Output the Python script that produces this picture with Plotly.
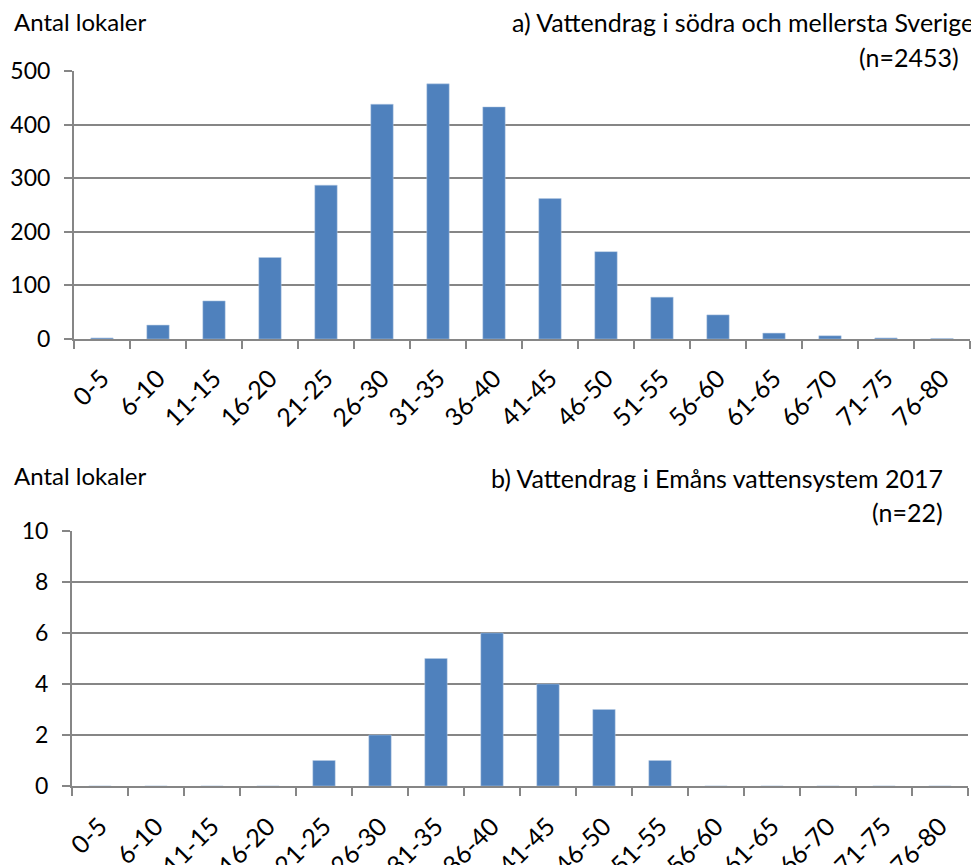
import plotly.graph_objects as go

categories = ["0-5", "6-10", "11-15", "16-20", "21-25", "26-30", "31-35", "36-40",
              "41-45", "46-50", "51-55", "56-60", "61-65", "66-70", "71-75", "76-80"]
values_a = [2, 26, 71, 152, 287, 438, 476, 433, 262, 163, 78, 45, 11, 6, 2, 1]
values_b = [0, 0, 0, 0, 1, 2, 5, 6, 4, 3, 1, 0, 0, 0, 0, 0]
yticks_a = [0, 100, 200, 300, 400, 500]
yticks_b = [0, 2, 4, 6, 8, 10]

BAR = "#4F81BD"
GRID = "#868686"
FONT = "Lato, 'Open Sans', sans-serif"
W, H = 979, 865
OFF = 8  # page body margin offset

def py(y):
    return 1 - (y - OFF) / H

def pxx(x):
    return (x - OFF) / W

fig = go.Figure()
fig.add_trace(go.Bar(x=categories, y=values_a, marker=dict(color=BAR, line=dict(color="#B9CDE5", width=0.5)),
                     xaxis="x", yaxis="y", showlegend=False))
fig.add_trace(go.Bar(x=categories, y=values_b, marker=dict(color=BAR, line=dict(color="#B9CDE5", width=0.5)),
                     xaxis="x2", yaxis="y2", showlegend=False))

xcommon = dict(type="category", tickangle=-45, ticks="outside", ticklen=8, tickcolor=GRID,
               tickwidth=2, tickson="boundaries", showline=True, linecolor=GRID, linewidth=2,
               showgrid=False, automargin=False,
               tickfont=dict(family=FONT, size=25, color="#000"), fixedrange=True)
ycommon = dict(ticks="outside", ticklen=8, tickcolor=GRID, tickwidth=2, showline=True,
               linecolor=GRID, linewidth=2, showgrid=True, gridcolor=GRID, gridwidth=2,
               zeroline=False, automargin=False, ticklabelstandoff=9,
               tickfont=dict(family=FONT, size=23, color="#000"), fixedrange=True)

fig.update_layout(
    width=W, height=H, margin=dict(l=0, r=0, t=0, b=0, autoexpand=False),
    paper_bgcolor="white", plot_bgcolor="white", bargap=0.6,
    xaxis=dict(domain=[pxx(74), pxx(970)], anchor="y", ticklabelstandoff=13, **xcommon),
    yaxis=dict(domain=[py(339), py(71)], anchor="x", range=[0, 500],
               tickvals=yticks_a, **ycommon),
    xaxis2=dict(domain=[pxx(72), pxx(968)], anchor="y2", ticklabelstandoff=14, **xcommon),
    yaxis2=dict(domain=[py(786), py(531)], anchor="x2", range=[0, 10],
                tickvals=yticks_b, **ycommon),
)

def ann(text, x, y, xanchor, size=25):
    fig.add_annotation(text=text, x=pxx(x), y=py(y), xref="paper", yref="paper",
                       xanchor=xanchor, yanchor="middle", showarrow=False,
                       font=dict(family=FONT, size=size, color="#000"))

ann("Antal lokaler", 12, 22, "left", 24)
ann("a) Vattendrag i södra och mellersta Sverige", 976, 22, "right")
ann("(n=2453)", 961, 57, "right")
ann("Antal lokaler", 12, 475, "left", 24)
ann("b) Vattendrag i Emåns vattensystem 2017", 945, 478, "right")
ann("(n=22)", 945, 512, "right")

fig.write_html("out.html")
